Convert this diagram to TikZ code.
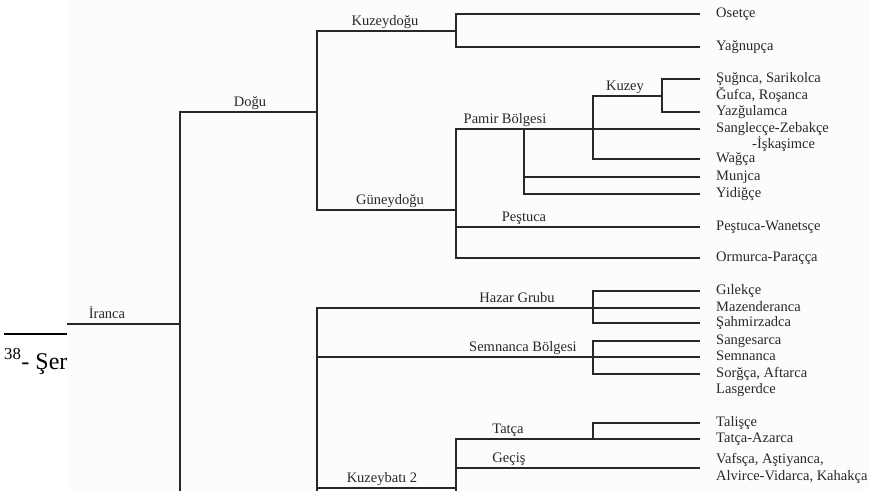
\documentclass[tikz,border=0pt]{standalone}
\usepackage{fontspec}
\setmainfont{Liberation Serif}
\usepackage{tikz}
\usetikzlibrary{positioning, calc}
\usepackage{xcolor}
\definecolor{treeink}{RGB}{40,40,40}
\definecolor{scanbg}{RGB}{252,252,252}
\tikzset{
  branch/.style={draw=treeink, line width=1.2pt},
  grp/.style={font=\fontsize{14.5}{16}\selectfont, text=treeink, inner sep=0pt, anchor=south, text depth=3pt},
  leaf/.style={font=\fontsize{14.5}{16}\selectfont, text=treeink, anchor=west, inner xsep=16pt, inner ysep=0pt, text height=10pt, text depth=3pt},
  foot/.style={font=\fontsize{24}{28}\selectfont, anchor=base west, inner sep=0pt}
}

\begin{document}
\begin{tikzpicture}[x=1pt, y=-1pt]
\useasboundingbox (0,0) rectangle (870,490);
% footnote of the page, covered by the scan
\node[foot] (fnote) at (4,369) {\textsuperscript{38}- Şer};
\draw[line width=1.6pt] (4,334) -- (67,334);
\fill[scanbg] (67,0) rectangle (870,490);
% junctions
\coordinate (iranca0) at (67,324);
\coordinate (irn) at (180,324);
\coordinate (irnlow) at (180,500);
\coordinate (dogu) at (317,112);
\coordinate (bati) at (317,500);
\coordinate (kdogu) at (456,31);
\coordinate (gdogu) at (456,210);
\coordinate (pamira) at (524,129);
\coordinate (pamirb) at (593,129);
\coordinate (kuzey) at (662,96);
\coordinate (hazar) at (593,308);
\coordinate (semnan) at (593,357);
\coordinate (kbati) at (456,488);
\coordinate (kbatilow) at (456,500);
\coordinate (tatca) at (593,439);
\coordinate (gecis) at (700,468);
% leaves
\foreach \name/\y/\txt in {osetce/14/Osetçe, yagnup/47/Yağnupça,
  sugnca/79/{Şuğnca, Sarikolca}, gufca/96/{Ğufca, Roşanca}, yazgul/112/Yazğulamca,
  sangle/129/Sanglecçe-Zebakçe, wagca/159/Wağça, munjca/177/Munjca, yidigce/194/Yidiğçe,
  pestw/227/Peştuca-Wanetsçe, ormurca/258/Ormurca-Paraçça,
  gilekce/291/Gılekçe, mazend/308/Mazenderanca, sahmir/323/Şahmirzadca,
  sanges/341/Sangesarca, semnl/357/Semnanca, sorgca/374/{Sorğça, Aftarca},
  lasger/389.5/Lasgerdce, talisce/423/Talişçe, tazarca/439/Tatça-Azarca,
  vafsca/459.5/{Vafsça, Aştiyanca,}, alvirce/476.5/{Alvirce-Vidarca, Kahakça}}
  \node[leaf] (\name) at (700,\y) {\txt};
\node[leaf, inner xsep=0pt] (iskasim) at (752,144.5) {-İşkaşimce};
% group labels
\node[grp] (l-iranca) at (107,322) {İranca};
\node[grp] (l-dogu) at (250,110) {Doğu};
\node[grp] (l-kdogu) at (385,29) {Kuzeydoğu};
\node[grp] (l-gdogu) at (390,208) {Güneydoğu};
\node[grp] (l-pamir) at (505,127) {Pamir Bölgesi};
\node[grp] (l-kuzey) at (625,94) {Kuzey};
\node[grp] (l-pestuca) at (524,225) {Peştuca};
\node[grp] (l-hazar) at (517,306) {Hazar Grubu};
\node[grp] (l-semnan) at (523,355) {Semnanca Bölgesi};
\node[grp] (l-tatca) at (508,437) {Tatça};
\node[grp] (l-gecis) at (509,466) {Geçiş};
\node[grp] (l-kbati) at (382,486) {Kuzeybatı 2};
% branches
\draw[branch] (iranca0) -- (irn) -- (irnlow);
\draw[branch] (irn) |- (dogu);
\foreach \from/\to in {dogu/kdogu, dogu/gdogu, kdogu/osetce, kdogu/yagnup,
  gdogu/sangle, gdogu/pestw, gdogu/ormurca, pamira/munjca, pamira/yidigce,
  pamirb/kuzey, pamirb/wagca, kuzey/sugnca, kuzey/yazgul,
  bati/hazar, bati/semnan, bati/kbati, hazar/gilekce, hazar/mazend, hazar/sahmir,
  semnan/sanges, semnan/semnl, semnan/sorgca,
  kbatilow/tazarca, kbatilow/gecis, tatca/talisce}
  \draw[branch] (\from) |- (\to);
\end{tikzpicture}
\end{document}
